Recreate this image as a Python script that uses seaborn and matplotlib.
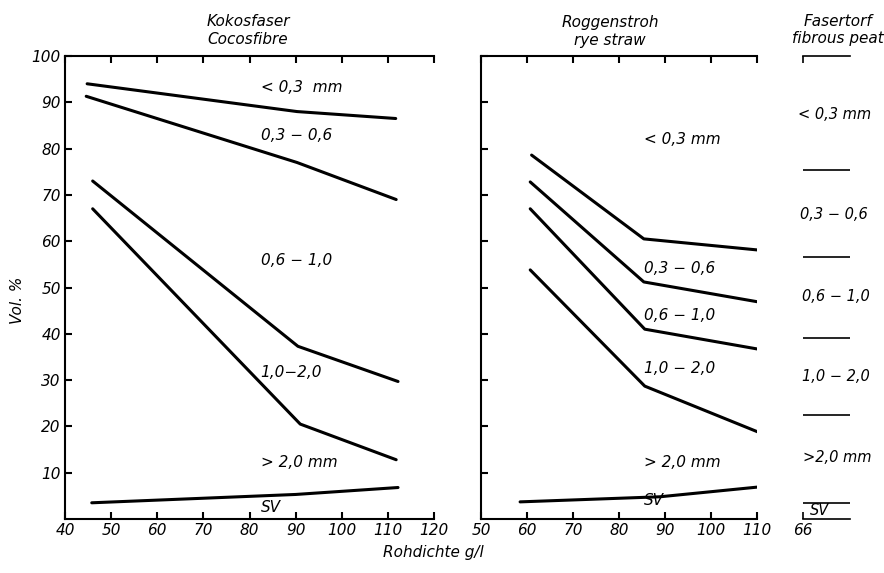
import matplotlib
matplotlib.use("Agg")
import matplotlib.pyplot as plt
import seaborn as sns

# Kokosfaser / Cocofibre - upper boundary line of each fraction (Vol. %)
coco_x_lt03 = [44.8, 90.3, 111.7]
coco_lt03 = [94.0, 88.0, 86.5]
coco_x_03_06 = [44.6, 90.3, 111.8]
coco_03_06 = [91.3, 77.0, 69.0]
coco_x_06_10 = [46.0, 90.5, 112.2]
coco_06_10 = [73.0, 37.3, 29.7]
coco_x_10_20 = [46.0, 91.0, 111.8]
coco_10_20 = [67.0, 20.5, 12.8]
coco_x_sv = [45.8, 90.0, 112.2]
coco_sv = [3.5, 5.3, 6.8]

# Roggenstroh / rye straw
rye_x_lt03 = [61.0, 85.4, 110.2]
rye_lt03 = [78.6, 60.5, 58.1]
rye_x_03_06 = [60.7, 85.4, 110.2]
rye_03_06 = [72.8, 51.2, 46.9]
rye_x_06_10 = [60.7, 85.6, 110.2]
rye_06_10 = [67.0, 41.0, 36.7]
rye_x_10_20 = [60.7, 85.6, 110.2]
rye_10_20 = [53.8, 28.7, 18.8]
rye_x_sv = [58.5, 88.9, 110.2]
rye_sv = [3.7, 4.8, 6.9]

# Fasertorf / fibrous peat at 66 g/l - fraction boundaries
peat_bounds = [75.4, 56.6, 39.1, 22.5, 3.5]

coco_labels = ["< 0,3  mm", "0,3 − 0,6", "0,6 − 1,0", "1,0−2,0", "> 2,0 mm", "SV"]
coco_label_y = [93.3, 82.9, 55.9, 31.7, 12.1, 2.4]
rye_labels = ["< 0,3 mm", "0,3 − 0,6", "0,6 − 1,0", "1,0 − 2,0", "> 2,0 mm", "SV"]
rye_label_y = [81.9, 54.2, 44.0, 32.4, 12.1, 4.0]
peat_labels = ["< 0,3 mm", "0,3 − 0,6", "0,6 − 1,0", "1,0 − 2,0", ">2,0 mm", "SV"]
peat_label_y = [87.3, 65.7, 48.0, 30.7, 13.2, 1.8]
peat_label_x = [-0.1, -0.06, -0.02, -0.02, 0.0, 0.15]

coco_xticks = [40, 50, 60, 70, 80, 90, 100, 110, 120]
rye_xticks = [50, 60, 70, 80, 90, 100, 110]
yticks = [10, 20, 30, 40, 50, 60, 70, 80, 90, 100]

sns.set_style("ticks")
plt.rcParams["font.family"] = ["DejaVu Sans"]
plt.rcParams["font.style"] = "italic"
plt.rcParams["font.size"] = 11
for key in ["text.color", "axes.labelcolor", "xtick.color", "ytick.color", "axes.edgecolor"]:
    plt.rcParams[key] = "black"

W, H = 884, 573
fig = plt.figure(figsize=(W / 100, H / 100), dpi=100)
ax1 = fig.add_axes([65 / W, 1 - 519 / H, 369 / W, 463 / H])
ax2 = fig.add_axes([481 / W, 1 - 519 / H, 276 / W, 463 / H])
ax3 = fig.add_axes([803 / W, 1 - 519 / H, 47 / W, 463 / H])

lw = 2.2
coco = [(coco_x_lt03, coco_lt03), (coco_x_03_06, coco_03_06), (coco_x_06_10, coco_06_10),
        (coco_x_10_20, coco_10_20), (coco_x_sv, coco_sv)]
rye = [(rye_x_lt03, rye_lt03), (rye_x_03_06, rye_03_06), (rye_x_06_10, rye_06_10),
       (rye_x_10_20, rye_10_20), (rye_x_sv, rye_sv)]

for xs, ys in coco:
    sns.lineplot(x=xs, y=ys, ax=ax1, color="black", linewidth=lw, sort=False)
for xs, ys in rye:
    sns.lineplot(x=xs, y=ys, ax=ax2, color="black", linewidth=lw, sort=False)

for ax, xt in [(ax1, coco_xticks), (ax2, rye_xticks)]:
    ax.set_xlim(xt[0], xt[-1])
    ax.set_ylim(0, 100)
    ax.set_xticks(xt)
    ax.set_yticks(yticks)
    ax.spines["right"].set_visible(False)
    for s in ["left", "bottom", "top"]:
        ax.spines[s].set_linewidth(1.5)
    ax.tick_params(direction="in", length=5, width=1.5, top=True, labelsize=11, pad=3)

ax1.set_yticklabels([str(v) for v in yticks])
ax2.set_yticklabels([])

for lab, y in zip(coco_labels, coco_label_y):
    ax1.text(82.4, y, lab, ha="left", va="center", fontsize=11)
for lab, y in zip(rye_labels, rye_label_y):
    ax2.text(85.5, y, lab, ha="left", va="center", fontsize=11)

# fibrous peat column
ax3.hlines(peat_bounds, 0, 1, color="black", linewidth=1.2)
ax3.set_xlim(0, 1)
ax3.set_ylim(0, 100)
ax3.set_yticks([])
ax3.set_xticks([0])
ax3.set_xticklabels(["66"])
ax3.spines["left"].set_visible(False)
ax3.spines["right"].set_visible(False)
ax3.spines["top"].set_linewidth(1.2)
ax3.spines["bottom"].set_linewidth(1.2)
ax3.tick_params(axis="x", direction="in", length=5, width=1.2, top=True, labelsize=11, pad=3)
for lab, x, y in zip(peat_labels, peat_label_x, peat_label_y):
    ax3.text(x, y, lab, ha="left", va="center", fontsize=10.5, clip_on=False)

# titles and axis labels
fig.text(248 / W, 1 - 31 / H, "Kokosfaser\nCocosfibre", ha="center", va="center", fontsize=11, linespacing=1.25)
fig.text(610 / W, 1 - 31 / H, "Roggenstroh\nrye straw", ha="center", va="center", fontsize=11, linespacing=1.25)
fig.text(838 / W, 1 - 30 / H, "Fasertorf\nfibrous peat", ha="center", va="center", fontsize=11, linespacing=1.25)
fig.text(18 / W, 1 - 300 / H, "Vol. %", rotation=90, ha="center", va="center", fontsize=11)
fig.text(433 / W, 1 - 553 / H, "Rohdichte g/l", ha="center", va="center", fontsize=11)

fig.savefig("out.png", dpi=100)
